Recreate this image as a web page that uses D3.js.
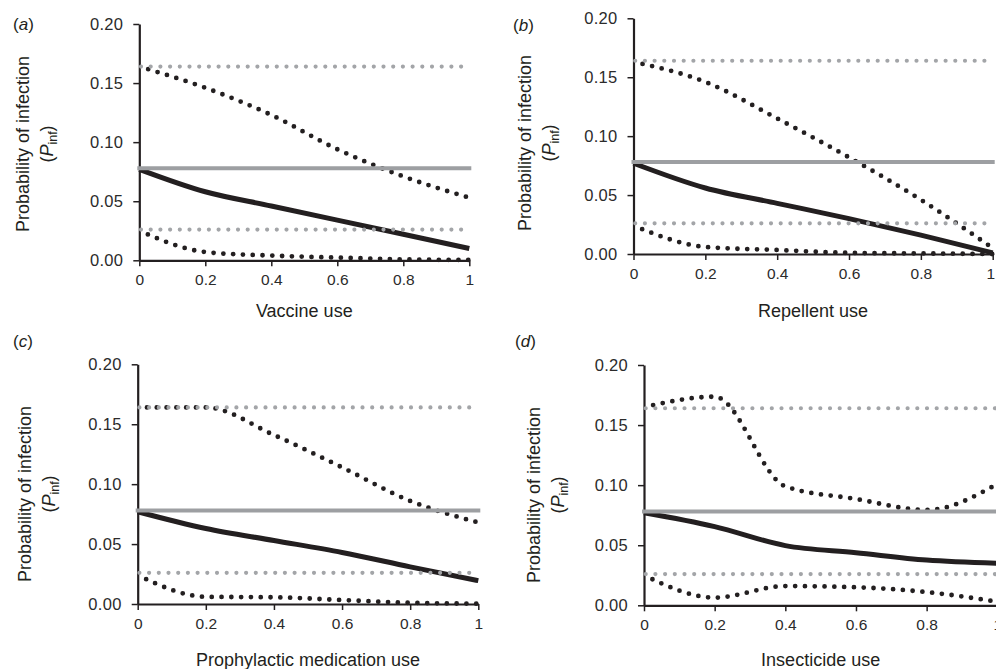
<!DOCTYPE html>
<html>
<head>
<meta charset="utf-8">
<script src="https://cdn.jsdelivr.net/npm/d3@7"></script>
<style>
  body { margin: 0; background: #fff; }
  svg { display: block; font-family: "Liberation Sans", Arial, sans-serif; }
</style>
</head>
<body>
<svg id="chart" width="996" height="669"></svg>
<script>
// coverage levels on the x axis
var coverage = [0, 0.2, 0.4, 0.6, 0.8, 1];
var xTicks = [0, 0.2, 0.4, 0.6, 0.8, 1];
var yTicks = [0, 0.05, 0.10, 0.15, 0.20];

// baseline (no intervention) probability and its bounds
var baseMean = 0.078;
var baseUpper = 0.164;
var baseLower = 0.026;

var vaccineMean = [0.077, 0.058, 0.046, 0.034, 0.022, 0.010];
var vaccineUpper = [0.164, 0.146, 0.123, 0.094, 0.071, 0.053];
var vaccineLower = [0.025, 0.007, 0.004, 0.0023, 0.0008, 0.0003];

var repellentMean = [0.077, 0.056, 0.043, 0.030, 0.016, 0.001];
var repellentUpper = [0.163, 0.146, 0.115, 0.082, 0.046, 0.005];
var repellentLower = [0.024, 0.006, 0.0034, 0.001, 0.0005, 0.0];

var medicationMean = [0.077, 0.063, 0.053, 0.043, 0.031, 0.0195];
var medicationUpper = [0.164, 0.164, 0.141, 0.114, 0.086, 0.068];
var medicationLower = [0.024, 0.006, 0.0056, 0.0033, 0.001, 0.0003];

var insecticideMean = [0.077, 0.0655, 0.0497, 0.0438, 0.0377, 0.035];
var insecticideUpper = [0.165, 0.1736, 0.099, 0.0885, 0.0793, 0.101];
var insecticideLower = [0.025, 0.0064, 0.016, 0.015, 0.011, 0.003];

var BLACK = "#231f20";
var GREY_LINE = "#9d9fa2";
var GREY_DOT = "#a3a5a8";
var FONT = "'Liberation Sans', Arial, sans-serif";

var panels = [
    {letter: "a", xlabel: "Vaccine use", mean: vaccineMean, upper: vaccineUpper, lower: vaccineLower,
     x0: 139.3, x1: 469.3, yTop: 24, yBot: 260.3, lx: 13, ly: 30, ylx: 29, yly: 144, xly: 317, lastDx: 0},
    {letter: "b", xlabel: "Repellent use", mean: repellentMean, upper: repellentUpper, lower: repellentLower,
     x0: 633.5, x1: 992.7, yTop: 18.3, yBot: 254, lx: 513, ly: 31, ylx: 531, yly: 143, xly: 317, lastDx: -2.5},
    {letter: "c", xlabel: "Prophylactic medication use", mean: medicationMean, upper: medicationUpper, lower: medicationLower,
     x0: 137.7, x1: 478.3, yTop: 364.3, yBot: 604, lx: 13, ly: 347, ylx: 31, yly: 494, xly: 666, lastDx: 0},
    {letter: "d", xlabel: "Insecticide use", mean: insecticideMean, upper: insecticideUpper, lower: insecticideLower,
     x0: 644, x1: 997.3, yTop: 365, yBot: 605.3, lx: 515, ly: 347, ylx: 540, yly: 495, xly: 666, lastDx: 0}
];

var svg = d3.select("#chart");

var drawPanel = function (p) {
    var g = svg.append("g");

    var x = d3.scaleLinear().domain([0, 1]).range([p.x0, p.x1]);
    var y = d3.scaleLinear().domain([0, 0.2]).range([p.yBot, p.yTop]);

    // axes
    var yAxis = g.append("g")
        .attr("transform", "translate(" + p.x0 + ",0)")
        .call(d3.axisLeft(y).tickValues(yTicks).tickFormat(d3.format(".2f"))
            .tickSize(6).tickSizeOuter(0).tickPadding(10));
    var xAxis = g.append("g")
        .attr("transform", "translate(0," + p.yBot + ")")
        .call(d3.axisBottom(x).tickValues(xTicks).tickFormat(function (d) { return String(d); })
            .tickSize(6).tickSizeOuter(0).tickPadding(8));
    [xAxis, yAxis].forEach(function (a) {
        a.attr("font-family", FONT);
        a.select(".domain").attr("stroke", BLACK).attr("stroke-width", 2.2);
        a.selectAll(".tick line").attr("stroke", BLACK).attr("stroke-width", 1.5);
        a.selectAll(".tick text").attr("fill", "#2b2b2b");
    });
    yAxis.attr("font-size", 16.5);
    yAxis.selectAll(".tick text").attr("letter-spacing", 0.3);
    xAxis.attr("font-size", 15.5);
    xAxis.selectAll(".tick text").filter(function (d) { return d === 1; }).attr("dx", p.lastDx);

    var line = d3.line()
        .x(function (d, i) { return x(coverage[i]); })
        .y(function (d) { return y(d); })
        .curve(d3.curveMonotoneX);

    // intervention curves
    g.append("path").datum(p.mean).attr("d", line)
        .attr("fill", "none").attr("stroke", BLACK).attr("stroke-width", 5);
    [p.upper, p.lower].forEach(function (s) {
        g.append("path").datum(s).attr("d", line)
            .attr("fill", "none").attr("stroke", BLACK).attr("stroke-width", 4.8)
            .attr("stroke-linecap", "round")
            .attr("stroke-dasharray", "0 9.8").attr("stroke-dashoffset", -9.3);
    });

    // baseline references
    [baseUpper, baseLower].forEach(function (v) {
        g.append("path").datum([v, v]).attr("d", d3.line()
                .x(function (d, i) { return x(i); })
                .y(function (d) { return y(d); }))
            .attr("fill", "none").attr("stroke", GREY_DOT).attr("stroke-width", 4.2)
            .attr("stroke-linecap", "round")
            .attr("stroke-dasharray", "0 9.7").attr("stroke-dashoffset", -1.7);
    });
    g.append("line")
        .attr("x1", x(0)).attr("x2", x(1))
        .attr("y1", y(baseMean)).attr("y2", y(baseMean))
        .attr("stroke", GREY_LINE).attr("stroke-width", 4).attr("stroke-linecap", "square");

    // panel letter
    var lt = g.append("text").attr("x", p.lx).attr("y", p.ly)
        .attr("font-size", 17).attr("fill", BLACK);
    lt.append("tspan").text("(");
    lt.append("tspan").attr("font-style", "italic").text(p.letter);
    lt.append("tspan").text(")");

    // x label
    g.append("text").attr("x", (p.x0 + p.x1) / 2).attr("y", p.xly)
        .attr("text-anchor", "middle").attr("font-size", 18).attr("fill", BLACK)
        .text(p.xlabel);

    // y label, two lines
    var yl = g.append("g").attr("transform", "translate(" + p.ylx + "," + p.yly + ") rotate(-90)");
    yl.append("text").attr("text-anchor", "middle").attr("font-size", 18).attr("fill", BLACK)
        .text("Probability of infection");
    var t2 = yl.append("text").attr("y", 24).attr("text-anchor", "middle")
        .attr("font-size", 18).attr("fill", BLACK);
    t2.append("tspan").text("(");
    t2.append("tspan").attr("font-style", "italic").text("P");
    t2.append("tspan").attr("font-size", 12.5).attr("dy", 4).text("inf");
    t2.append("tspan").attr("dy", -4).text(")");
};

panels.forEach(drawPanel);
</script>
</body>
</html>
